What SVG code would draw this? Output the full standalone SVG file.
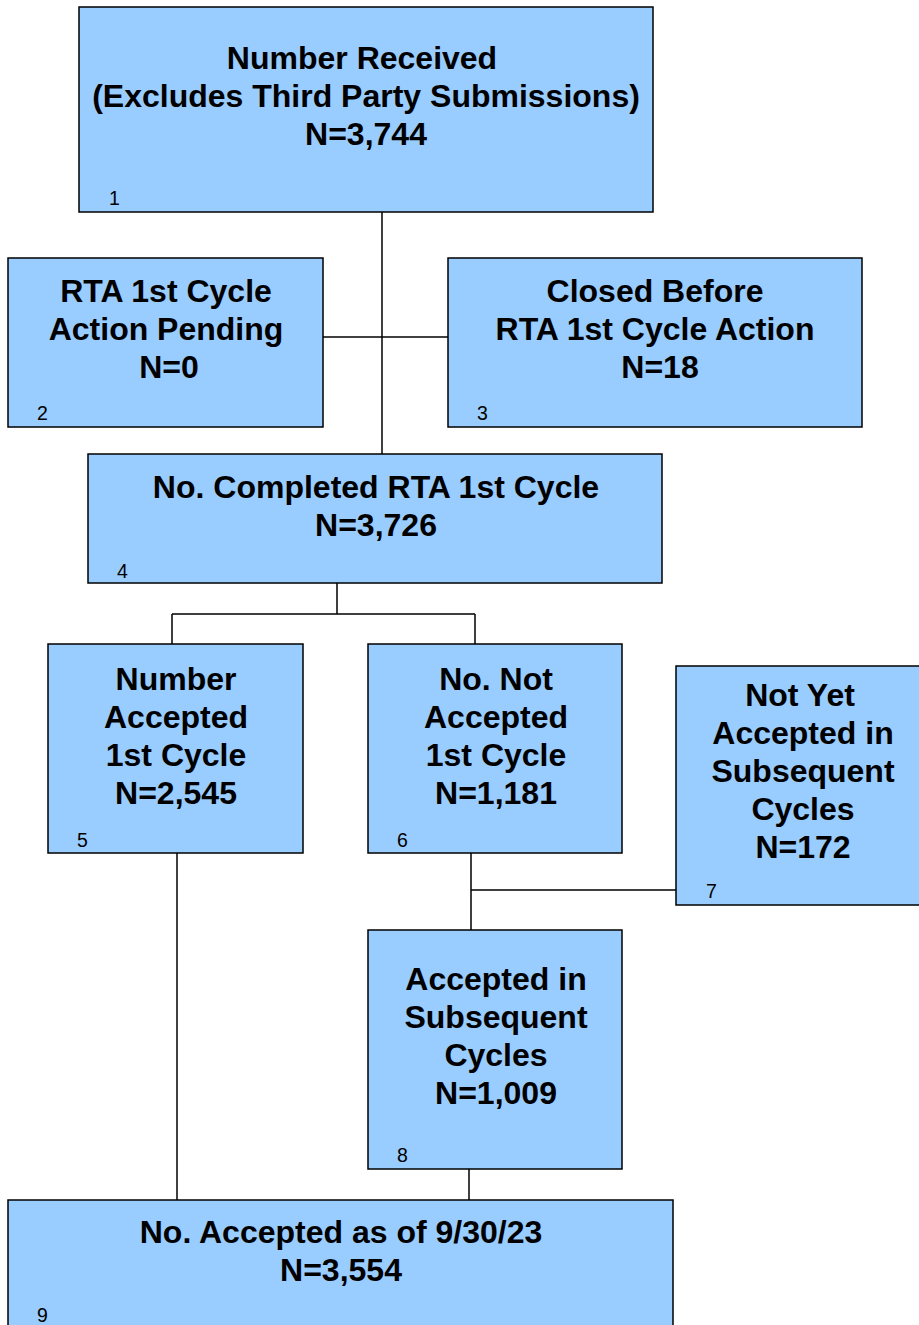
<svg xmlns="http://www.w3.org/2000/svg" width="919" height="1325" viewBox="0 0 919 1325">
<style>
.box{fill:#99CCFF;stroke:#000;stroke-width:1.5}
.t{font-family:"Liberation Sans",Arial,sans-serif;font-weight:bold;font-size:32px;fill:#000;text-anchor:middle}
.n{font-family:"Liberation Sans",Arial,sans-serif;font-size:19.5px;fill:#000}
.c{fill:none;stroke:#000;stroke-width:1.5}
</style>
<rect width="919" height="1325" fill="#fff"/>
<g id="connectors">
<path class="c" d="M382,212V454"/>
<path class="c" d="M323,337H448"/>
<path class="c" d="M337,583V614M172,614H475M172,614V644M475,614V644"/>
<path class="c" d="M177,853V1200"/>
<path class="c" d="M471,853V930M471,890H676"/>
<path class="c" d="M469,1169V1200"/>
</g>
<g id="node1">
<rect class="box" x="79" y="7" width="574" height="205"/>
<text class="t" x="362" y="69">Number Received</text>
<text class="t" x="366" y="107">(Excludes Third Party Submissions)</text>
<text class="t" x="366" y="145">N=3,744</text>
<text class="n" x="109" y="205">1</text>
</g>
<g id="node2">
<rect class="box" x="8" y="258" width="315" height="169"/>
<text class="t" x="166" y="302">RTA 1st Cycle</text>
<text class="t" x="166" y="340">Action Pending</text>
<text class="t" x="169" y="378">N=0</text>
<text class="n" x="37" y="420">2</text>
</g>
<g id="node3">
<rect class="box" x="448" y="258" width="414" height="169"/>
<text class="t" x="655" y="302">Closed Before</text>
<text class="t" x="655" y="340">RTA 1st Cycle Action</text>
<text class="t" x="660" y="378">N=18</text>
<text class="n" x="477" y="420">3</text>
</g>
<g id="node4">
<rect class="box" x="88" y="454" width="574" height="129"/>
<text class="t" x="376" y="498">No. Completed RTA 1st Cycle</text>
<text class="t" x="376" y="536">N=3,726</text>
<text class="n" x="117" y="578">4</text>
</g>
<g id="node5">
<rect class="box" x="48" y="644" width="255" height="209"/>
<text class="t" x="176" y="690">Number</text>
<text class="t" x="176" y="728">Accepted</text>
<text class="t" x="176" y="766">1st Cycle</text>
<text class="t" x="176" y="804">N=2,545</text>
<text class="n" x="77" y="847">5</text>
</g>
<g id="node6">
<rect class="box" x="368" y="644" width="254" height="209"/>
<text class="t" x="496" y="690">No. Not</text>
<text class="t" x="496" y="728">Accepted</text>
<text class="t" x="496" y="766">1st Cycle</text>
<text class="t" x="496" y="804">N=1,181</text>
<text class="n" x="397" y="847">6</text>
</g>
<g id="node7">
<rect class="box" x="676" y="666" width="250" height="239"/>
<text class="t" x="800" y="706">Not Yet</text>
<text class="t" x="803" y="744">Accepted in</text>
<text class="t" x="803" y="782">Subsequent</text>
<text class="t" x="803" y="820">Cycles</text>
<text class="t" x="803" y="858">N=172</text>
<text class="n" x="706" y="898">7</text>
</g>
<g id="node8">
<rect class="box" x="368" y="930" width="254" height="239"/>
<text class="t" x="496" y="990">Accepted in</text>
<text class="t" x="496" y="1028">Subsequent</text>
<text class="t" x="496" y="1066">Cycles</text>
<text class="t" x="496" y="1104">N=1,009</text>
<text class="n" x="397" y="1162">8</text>
</g>
<g id="node9">
<rect class="box" x="8" y="1200" width="665" height="135"/>
<text class="t" x="341" y="1243">No. Accepted as of 9/30/23</text>
<text class="t" x="341" y="1281">N=3,554</text>
<text class="n" x="37" y="1322">9</text>
</g>
</svg>
